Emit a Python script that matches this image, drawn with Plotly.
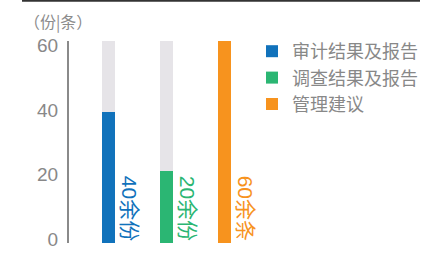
import plotly.graph_objects as go

categories = ["审计结果及报告", "调查结果及报告", "管理建议"]
values = [39.5, 21, 61.4]
backdrop = [61.4, 61.4, 61.4]
labels = ["40余份", "20余份", "60余条"]
colors = ["#1172bb", "#2bb673", "#f7931e"]
ytick_vals = [0, 20, 40, 60]
unit_title = "（份|条）"

W, H = 421, 254
base = -1.24
xs = list(range(len(categories)))

fig = go.Figure()
fig.add_trace(go.Bar(x=xs, y=[b - base for b in backdrop], base=base, width=0.224,
                     marker=dict(color="#e6e4e8", line=dict(width=0)),
                     showlegend=False, hoverinfo="skip"))
for i, (c, v, col) in enumerate(zip(categories, values, colors)):
    fig.add_trace(go.Bar(x=[xs[i]], y=[v - base], base=base, width=0.224, name=c,
                         marker=dict(color=col, line=dict(width=0))))

for i, (lab, col) in enumerate(zip(labels, colors)):
    fig.add_annotation(x=xs[i] + 0.13, y=base, xref="x", yref="y", text=lab,
                       textangle=90, showarrow=False, xanchor="left", yanchor="bottom",
                       font=dict(size=21, color=col,
                                 family="Liberation Sans, Noto Sans CJK SC"))

fig.add_annotation(x=22 / W, y=1 - 21 / H, xref="paper", yref="paper", text=unit_title,
                   showarrow=False, xanchor="left", yanchor="middle",
                   font=dict(size=16, color="#8c8c8c", family="Noto Sans CJK SC"))

fig.add_shape(type="line", xref="paper", yref="paper", x0=22 / W, x1=420 / W,
              y0=1 - 0.8 / H, y1=1 - 0.8 / H, line=dict(color="#333333", width=2))

fig.update_layout(
    width=W, height=H, autosize=False,
    margin=dict(l=0, r=0, t=0, b=0, autoexpand=False),
    paper_bgcolor="white", plot_bgcolor="white",
    barmode="overlay", bargap=0,
    font=dict(family="Liberation Sans, Noto Sans CJK SC", color="#888888"),
    xaxis=dict(domain=[69 / W, 262 / W], range=[-0.681, 2.64], visible=False,
               automargin=False),
    yaxis=dict(domain=[(H - 243) / H, (H - 41) / H], range=[base, 61.4],
               tickvals=ytick_vals, showgrid=False, zeroline=False,
               showline=True, linecolor="#8a8a8a", linewidth=2, automargin=False,
               ticks="", ticklabelstandoff=5,
               tickfont=dict(size=19, color="#888888", family="Liberation Sans")),
    legend=dict(x=252 / W, y=1 - 33 / H, xanchor="left", yanchor="top",
                font=dict(size=18, color="#888888", family="Noto Sans CJK SC"),
                bgcolor="rgba(0,0,0,0)", tracegroupgap=0),
    showlegend=True,
)

fig.write_html("out.html", config={"displayModeBar": False},
               post_script="document.body.style.margin='0';")
